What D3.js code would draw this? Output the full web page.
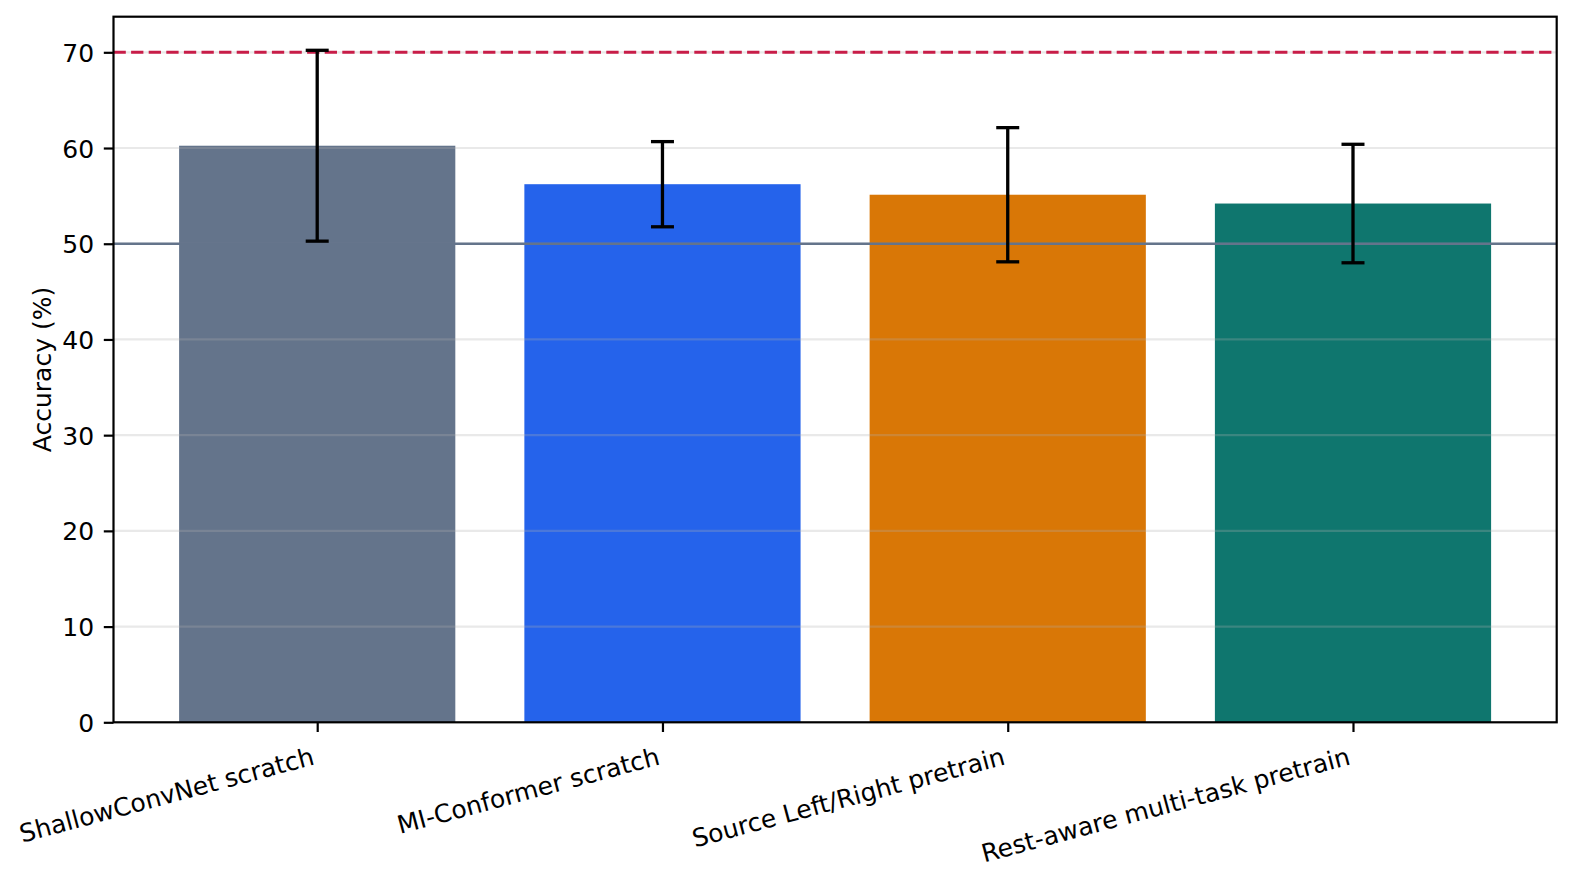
<!DOCTYPE html>
<html>
<head>
<meta charset="utf-8">
<script src="https://cdn.jsdelivr.net/npm/d3@7"></script>
<style>
  html, body { margin: 0; padding: 0; background: #fff; }
  svg text { font-family: "DejaVu Sans", sans-serif; fill: #000; }
</style>
</head>
<body>
<div id="chart"></div>
<script>
const methods = ['ShallowConvNet scratch', 'MI-Conformer scratch', 'Source Left/Right pretrain', 'Rest-aware multi-task pretrain'];
const accMean = [60.24, 56.22, 55.12, 54.2];
const accStd = [9.97, 4.45, 7.01, 6.19];
const barColors = ['#64748b', '#2563eb', '#d97706', '#0f766e'];
const yTicks = [0, 10, 20, 30, 40, 50, 60, 70];
const chanceLevel = 50;
const targetLevel = 70;

const W = 1575, H = 880;
const margin = { top: 16.7, right: 18.3, bottom: 157.7, left: 113.5 };
const innerW = W - margin.left - margin.right;
const innerH = H - margin.top - margin.bottom;
const fs = 25;
const tickLen = 9.7, tickPad = 9.7;

const svg = d3.select('#chart').append('svg')
    .attr('width', W).attr('height', H);

const g = svg.append('g')
    .attr('transform', `translate(${margin.left},${margin.top})`);

// matplotlib-like limits: bars at 0..n-1, width 0.8, 5% margins
const n = methods.length;
const xPad = (n - 1 + 0.8) * 0.05;
const x = d3.scaleLinear()
    .domain([-0.4 - xPad, n - 1 + 0.4 + xPad])
    .range([0, innerW]);

const yMax = d3.max(accMean.map((m, i) => m + accStd[i])) * 1.05;
const y = d3.scaleLinear().domain([0, yMax]).range([innerH, 0]);

// bars
g.selectAll('.bar').data(accMean).enter().append('rect')
    .attr('class', 'bar')
    .attr('x', (d, i) => x(i - 0.4))
    .attr('width', (d, i) => x(i + 0.4) - x(i - 0.4))
    .attr('y', d => y(d))
    .attr('height', d => innerH - y(d))
    .attr('fill', (d, i) => barColors[i]);

// grid on top, faint
g.append('g').selectAll('line').data(yTicks.filter(t => t > 0)).enter().append('line')
    .attr('x1', 0).attr('x2', innerW)
    .attr('y1', d => y(d)).attr('y2', d => y(d))
    .attr('stroke', '#b0b0b0').attr('stroke-opacity', 0.28).attr('stroke-width', 2.2);

// chance line
g.append('line')
    .attr('x1', 0).attr('x2', innerW)
    .attr('y1', y(chanceLevel)).attr('y2', y(chanceLevel))
    .attr('stroke', '#64748b').attr('stroke-width', 2.6);

// target line
g.append('line')
    .attr('x1', 0).attr('x2', innerW)
    .attr('y1', y(targetLevel)).attr('y2', y(targetLevel))
    .attr('stroke', '#c81d48').attr('stroke-width', 3)
    .attr('stroke-dasharray', '12.3,5.3');

// error bars
const capHalf = 11.5;
const err = g.append('g').selectAll('g').data(accMean).enter().append('g');
err.append('line')
    .attr('x1', (d, i) => x(i)).attr('x2', (d, i) => x(i))
    .attr('y1', (d, i) => y(d - accStd[i])).attr('y2', (d, i) => y(d + accStd[i]))
    .attr('stroke', '#000').attr('stroke-width', 3.3);
[-1, 1].forEach(s => {
    err.append('line')
        .attr('x1', (d, i) => x(i) - capHalf).attr('x2', (d, i) => x(i) + capHalf)
        .attr('y1', (d, i) => y(d + s * accStd[i])).attr('y2', (d, i) => y(d + s * accStd[i]))
        .attr('stroke', '#000').attr('stroke-width', 3.3);
});

// y axis
const yAxis = g.append('g')
    .call(d3.axisLeft(y).tickValues(yTicks).tickSize(tickLen).tickPadding(tickPad).tickFormat(d3.format('d')));
yAxis.select('.domain').remove();
yAxis.selectAll('.tick line').attr('stroke', '#000').attr('stroke-width', 2.2);
yAxis.selectAll('.tick text').style('font-size', fs + 'px').attr('dy', '0.36em');

// x axis ticks
const xAxis = g.append('g').attr('transform', `translate(0,${innerH})`)
    .call(d3.axisBottom(x).tickValues(d3.range(n)).tickSize(tickLen).tickFormat(''));
xAxis.select('.domain').remove();
xAxis.selectAll('.tick line').attr('stroke', '#000').attr('stroke-width', 2.2);

// rotated x labels (rotation 15, ha right)
const rot = 15 * Math.PI / 180;
const boxH = 1.164 * fs, desc = 0.236 * fs;
const yBR = innerH + tickLen + tickPad + boxH * Math.cos(rot);
g.append('g').selectAll('text').data(methods).enter().append('text')
    .attr('transform', (d, i) => {
        const bx = x(i) - desc * Math.sin(rot);
        const by = yBR - desc * Math.cos(rot);
        return `translate(${bx},${by}) rotate(-15)`;
    })
    .attr('text-anchor', 'end')
    .style('font-size', fs + 'px')
    .text(d => d);

// y label
g.append('text')
    .attr('transform', `translate(${42 - margin.left},${innerH / 2}) rotate(-90)`)
    .attr('text-anchor', 'middle')
    .attr('dy', '0.36em')
    .style('font-size', fs + 'px')
    .text('Accuracy (%)');

// frame
g.append('rect')
    .attr('x', 0).attr('y', 0).attr('width', innerW).attr('height', innerH)
    .attr('fill', 'none').attr('stroke', '#000').attr('stroke-width', 2.2);
</script>
</body>
</html>
